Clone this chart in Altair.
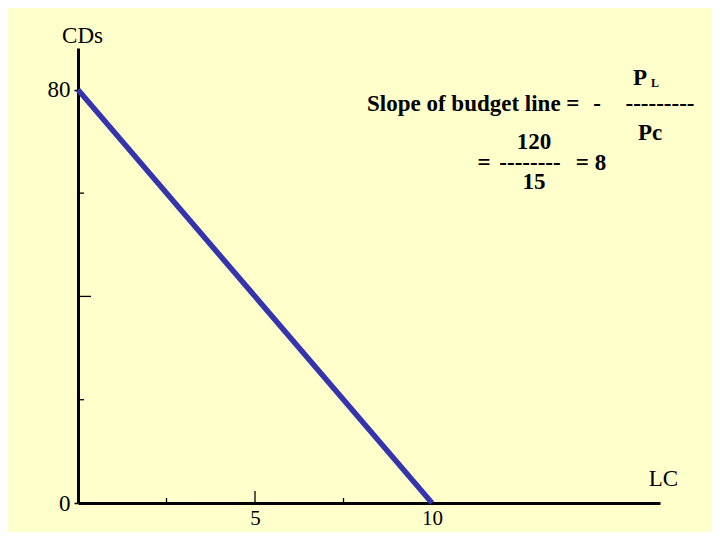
import altair as alt
import pandas as pd

# Data
lc_values = [0, 10]
cd_values = [80, 0]
x_minor_ticks = [2.5, 7.5]
x_major_ticks = [5]
y_minor_ticks = [20, 60]
y_major_ticks = [40]
x_labels = [5, 10]
y_labels = [0, 80]

W, H = 582, 455
FONT = "Liberation Serif"
BG = "#FFFFCC"

xs = alt.Scale(domain=[0, 16.44], nice=False, zero=False)
ys = alt.Scale(domain=[0, 88.1], nice=False, zero=False)

line_df = pd.DataFrame({"LC": lc_values, "CDs": cd_values})

base = alt.Chart(line_df)

line = base.mark_line(color="#3434AE", strokeWidth=5.5, strokeCap="butt").encode(
    x=alt.X("LC:Q", scale=xs, axis=alt.Axis(
        values=x_labels, title="LC", grid=False, domainColor="black", domainWidth=3,
        ticks=False, labelFont=FONT, labelFontSize=21, labelColor="black",
        labelPadding=4, labelFlush=False, titleFont=FONT, titleFontSize=23,
        titleFontWeight="normal", titleColor="black", titleX=585, titleY=-25,
        titleAlign="center", titleBaseline="middle")),
    y=alt.Y("CDs:Q", scale=ys, axis=alt.Axis(
        values=y_labels, title="CDs", grid=False, domainColor="black", domainWidth=3,
        ticks=True, tickSize=4, tickColor="black", tickWidth=1.5,
        labelFont=FONT, labelFontSize=23, labelColor="black", labelPadding=4,
        titleFont=FONT, titleFontSize=23, titleFontWeight="normal", titleColor="black",
        titleAngle=0, titleX=4, titleY=-13, titleAlign="center", titleBaseline="middle")),
)

def xticks(vals, length):
    return alt.Chart(pd.DataFrame({"v": vals})).mark_rule(color="black", strokeWidth=1.3).encode(
        x=alt.X("v:Q", scale=xs), y=alt.value(H), y2=alt.value(H - length))

def yticks(vals, length):
    return alt.Chart(pd.DataFrame({"v": vals})).mark_rule(color="black", strokeWidth=1.3).encode(
        y=alt.Y("v:Q", scale=ys), x=alt.value(0), x2=alt.value(length))

def txt(s, x, y, size=23, align="center", weight="bold"):
    return alt.Chart(pd.DataFrame({"t": [s]})).mark_text(
        font=FONT, fontSize=size, fontWeight=weight, align=align, baseline="middle",
        color="black").encode(text="t:N", x=alt.value(x), y=alt.value(y))

annotations = [
    txt("Slope of budget line =", 289, 56, align="left"),
    txt("-", 519, 56),
    txt("---------", 582, 56),
    txt("P", 562, 30),
    txt("L", 577, 35, size=12),
    txt("Pc", 572, 85),
    txt("120", 456, 94),
    txt("=", 406, 115),
    txt("--------", 452, 115),
    txt("= 8", 513, 115),
    txt("15", 456, 134),
]

chart = alt.layer(
    xticks(x_minor_ticks, 5), xticks(x_major_ticks, 12),
    yticks(y_minor_ticks, 6), yticks(y_major_ticks, 13),
    line, *annotations
).properties(
    width=W, height=H, background=BG,
    autosize=alt.AutoSizeParams(type="none"),
    padding={"left": 70, "top": 40, "right": 52, "bottom": 29},
).configure_view(stroke=None)

chart.save("out.html", embed_options={"renderer": "svg", "actions": False})
